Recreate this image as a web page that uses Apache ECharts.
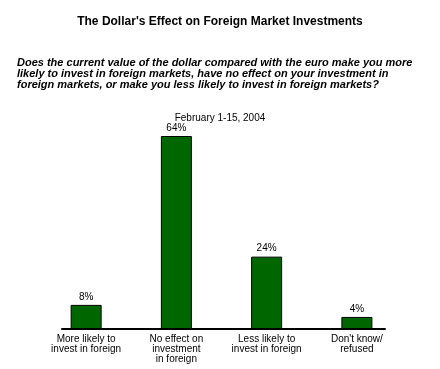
<!DOCTYPE html>
<html><head><meta charset="utf-8">
<script src="https://cdn.jsdelivr.net/npm/echarts@6/dist/echarts.min.js"></script>
<style>html,body{margin:0;padding:0;background:#fff}#c{width:440px;height:369px}</style>
</head><body><div id="c"></div>
<script>
const titleText = "The Dollar's Effect on Foreign Market Investments";
const questionText = "Does the current value of the dollar compared with the euro make you more\nlikely to invest in foreign markets, have no effect on your investment in\nforeign markets, or make you less likely to invest in foreign markets?";
const dateText = "February 1-15, 2004";
const categories = ["More likely to\ninvest in foreign", "No effect on\ninvestment\nin foreign", "Less likely to\ninvest in foreign", "Don't know/\nrefused"];
const values = [8, 64, 24, 4];

const font = "Arial, 'Liberation Sans', sans-serif";
const chart = echarts.init(document.getElementById('c'), null, {renderer: 'canvas'});
chart.setOption({
  animation: false,
  backgroundColor: '#fff',
  title: [
    {text: titleText, left: 'center', top: 15, padding: 0,
     textStyle: {fontFamily: font, fontSize: 12, fontWeight: 'bold', color: '#000', lineHeight: 14}},
    {text: questionText, left: 17, top: 57, padding: 0,
     textStyle: {fontFamily: font, fontSize: 11, fontWeight: 'bold', fontStyle: 'italic', color: '#000', lineHeight: 11}},
    {text: dateText, left: 'center', top: 113, padding: 0,
     textStyle: {fontFamily: font, fontSize: 10, fontWeight: 'normal', color: '#000', lineHeight: 10}}
  ],
  grid: [
    {left: 41, right: 38, top: 136, bottom: 40},
    {left: 62, right: 55, top: 136, bottom: 40}
  ],
  xAxis: [
    {type: 'category', gridIndex: 0, data: categories,
     axisLine: {show: false}, axisTick: {show: false},
     axisLabel: {margin: 5, fontFamily: font, fontSize: 10, color: '#000', lineHeight: 10, interval: 0}},
    {type: 'value', gridIndex: 1, min: 0, max: 1,
     axisLine: {show: true, lineStyle: {color: '#000', width: 2}},
     axisTick: {show: false}, axisLabel: {show: false}, splitLine: {show: false}}
  ],
  yAxis: [
    {type: 'value', gridIndex: 0, min: 0, max: 64, show: false},
    {type: 'value', gridIndex: 1, min: 0, max: 1, show: false}
  ],
  series: [{
    type: 'bar', xAxisIndex: 0, yAxisIndex: 0, data: values, barWidth: 31,
    itemStyle: {color: '#006600', borderColor: '#000', borderWidth: 1},
    label: {show: true, position: 'top', distance: 3, formatter: '{c}%',
            fontFamily: font, fontSize: 10, color: '#000'}
  }]
});
</script></body></html>
